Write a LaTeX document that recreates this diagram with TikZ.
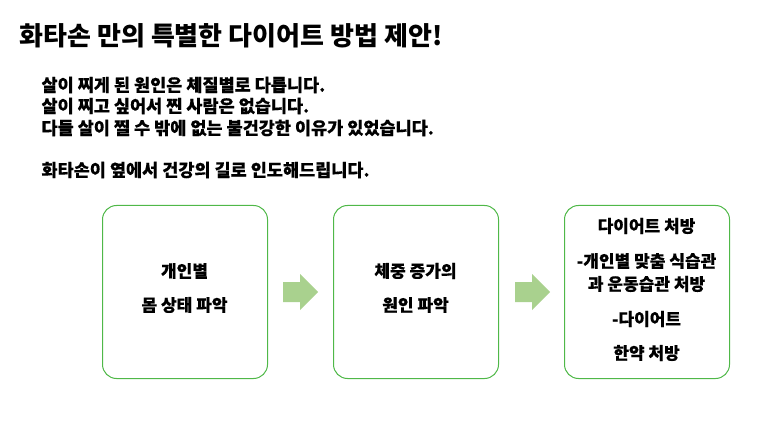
\documentclass[tikz,border=0pt]{standalone}
\usepackage{fontspec}
\setmainfont{Noto Sans CJK KR}[FakeBold=0.25]
\newfontfamily\titlefont{Noto Sans CJK KR}
\definecolor{boxgreen}{HTML}{4FB848}
\definecolor{arrgreen}{HTML}{A9D18E}
\begin{document}
\begin{tikzpicture}[x=1pt,y=-1pt,
  stepbox/.style={draw=boxgreen,line width=1pt,rounded corners=14pt,minimum width=165pt,minimum height=173pt,anchor=north west},
  flow/.style={fill=arrgreen,draw=none},
  body/.style={anchor=west,font=\fontsize{17.5}{20}\selectfont\bfseries},
  btxt/.style={anchor=center,font=\fontsize{17}{20}\selectfont\bfseries}]
\useasboundingbox (0,0) rectangle (773,430);
\node[anchor=west,font=\titlefont\fontsize{26}{30}\selectfont\bfseries] (title) at (16,36) {화타손 만의 특별한 다이어트 방법 제안!};
\node[body] (l1) at (38,85) {살이 찌게 된 원인은 체질별로 다릅니다.};
\node[body] (l2) at (38,106) {살이 찌고 싶어서 찐 사람은 없습니다.};
\node[body] (l3) at (38,128) {다들 살이 찔 수 밖에 없는 불건강한 이유가 있었습니다.};
\node[body] (l4) at (38,170) {화타손이 옆에서 건강의 길로 인도해드립니다.};
\node[stepbox] (b1) at (102,205) {};
\node[stepbox] (b2) at (333,205) {};
\node[stepbox] (b3) at (564,205) {};
\node[btxt] (t11) at (184.5,271) {개인별};
\node[btxt] (t12) at (184.5,305) {몸 상태 파악};
\node[btxt] (t21) at (415.5,271) {체중 증가의};
\node[btxt] (t22) at (415.5,305) {원인 파악};
\node[btxt] (t31) at (646.5,226) {다이어트 처방};
\node[btxt] (t32) at (646.5,261) {-개인별 맞춤 식습관};
\node[btxt] (t33) at (646.5,284) {과 운동습관 처방};
\node[btxt] (t34) at (646.5,319) {-다이어트};
\node[btxt] (t35) at (646.5,353) {한약 처방};
\foreach \x/\n in {283/a1,515/a2}{
  \coordinate (\n) at (\x,292);
  \fill[flow] (\n) ++(0,-10) -- ++(17,0) -- ++(0,-8) -- ++(18,18) -- ++(-18,18) -- ++(0,-8) -- ++(-17,0) -- cycle;
}
\end{tikzpicture}
\end{document}
